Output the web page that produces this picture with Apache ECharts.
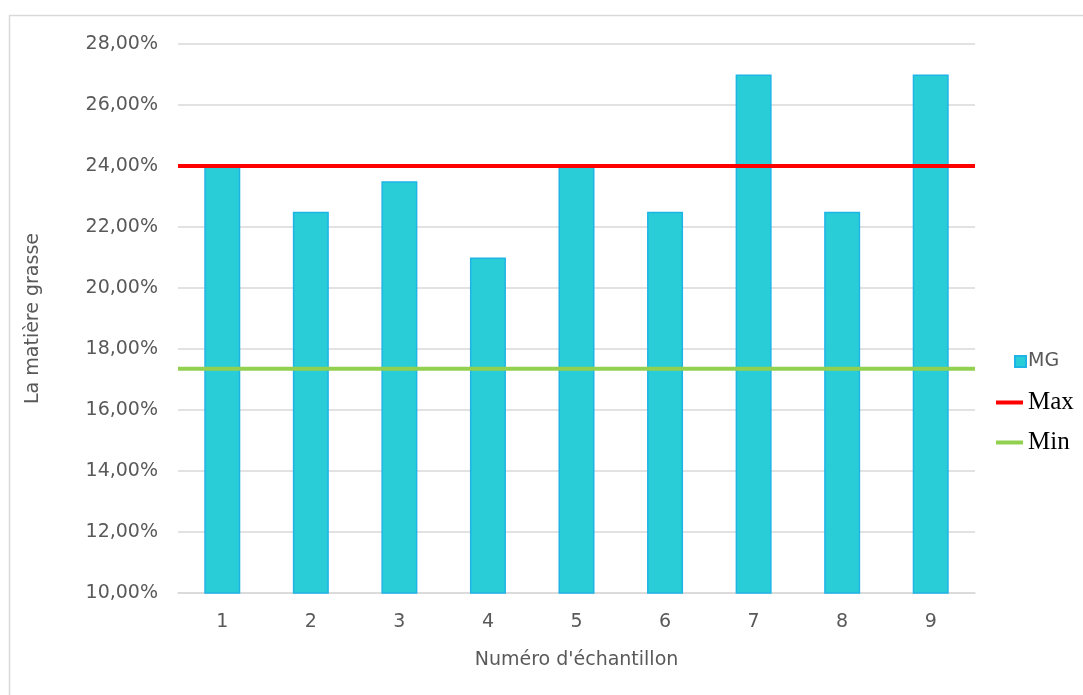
<!DOCTYPE html>
<html>
<head>
<meta charset="utf-8">
<script src="https://cdn.jsdelivr.net/npm/echarts@6/dist/echarts.min.js"></script>
<style>
  html, body { margin: 0; padding: 0; background: #fff; }
  #chart { width: 1083px; height: 695px; }
</style>
</head>
<body>
<div id="chart"></div>
<script>
// Sample numbers and fat content (%)
const categories = ['1', '2', '3', '4', '5', '6', '7', '8', '9'];
const mgValues = [24, 22.5, 23.5, 21, 24, 22.5, 27, 22.5, 27];
const maxLimit = 24;
const minLimit = 17.35;
const yTicks = { min: 10, max: 28, step: 2 };

const sansFont = '"DejaVu Sans", "Noto Sans", sans-serif';
const serifFont = '"Liberation Serif", "DejaVu Serif", serif';
const grey = '#595959';

const chart = echarts.init(document.getElementById('chart'));

const fmtPct = v => v.toFixed(2).replace('.', ',') + '%';

chart.setOption({
  animation: false,
  backgroundColor: '#ffffff',
  graphic: [{
    type: 'rect',
    shape: { x: 9.5, y: 15.5, width: 1200, height: 800 },
    style: { fill: 'none', stroke: '#d9d9d9', lineWidth: 1.5 },
    silent: true
  }],
  grid: { left: 178, right: 108, top: 44, bottom: 102 },
  legend: [{
    orient: 'vertical',
    left: 1009,
    top: 347,
    itemWidth: 11,
    itemHeight: 11,
    data: [{ name: 'MG', icon: 'rect' }],
    textStyle: { fontFamily: sansFont, fontSize: 19, color: grey, padding: [0, 0, 0, -3] }
  }, {
    orient: 'vertical',
    left: 991,
    top: 385,
    itemWidth: 27,
    itemHeight: 4,
    itemGap: 15,
    data: [{ name: 'Max', icon: 'rect' }, { name: 'Min', icon: 'rect' }],
    textStyle: { fontFamily: serifFont, fontSize: 25, color: '#000', padding: [0, 0, 0, 0] }
  }],
  xAxis: [{
    type: 'category',
    data: categories,
    name: "Numéro d'échantillon",
    nameLocation: 'middle',
    nameGap: 58,
    nameTextStyle: { fontFamily: sansFont, fontSize: 19, color: grey },
    axisLine: { lineStyle: { color: '#d9d9d9', width: 1.5 } },
    axisTick: { show: false },
    axisLabel: { fontFamily: sansFont, fontSize: 19, color: grey, margin: 20 }
  }, {
    type: 'value',
    min: 0,
    max: 1,
    show: false
  }],
  yAxis: {
    type: 'value',
    min: yTicks.min,
    max: yTicks.max,
    interval: yTicks.step,
    name: 'La matière grasse',
    nameLocation: 'middle',
    nameGap: 135,
    nameTextStyle: { fontFamily: sansFont, fontSize: 19, color: grey },
    axisLine: { show: false },
    axisTick: { show: false },
    axisLabel: { fontFamily: sansFont, fontSize: 19, color: grey, margin: 20, formatter: fmtPct },
    splitLine: { lineStyle: { color: '#d9d9d9', width: 1.5 } }
  },
  series: [{
    name: 'MG',
    type: 'bar',
    data: mgValues,
    barWidth: 36,
    itemStyle: { color: '#29cdd7', borderColor: '#1fb4e6', borderWidth: 1.5 }
  }, {
    name: 'Max',
    type: 'line',
    xAxisIndex: 1,
    data: [[0, maxLimit], [1, maxLimit]],
    symbol: 'none',
    itemStyle: { color: '#ff0000' },
    lineStyle: { color: '#ff0000', width: 4 },
    z: 5
  }, {
    name: 'Min',
    type: 'line',
    xAxisIndex: 1,
    data: [[0, minLimit], [1, minLimit]],
    symbol: 'none',
    itemStyle: { color: '#92d050' },
    lineStyle: { color: '#92d050', width: 4 },
    z: 5
  }]
});
</script>
</body>
</html>
